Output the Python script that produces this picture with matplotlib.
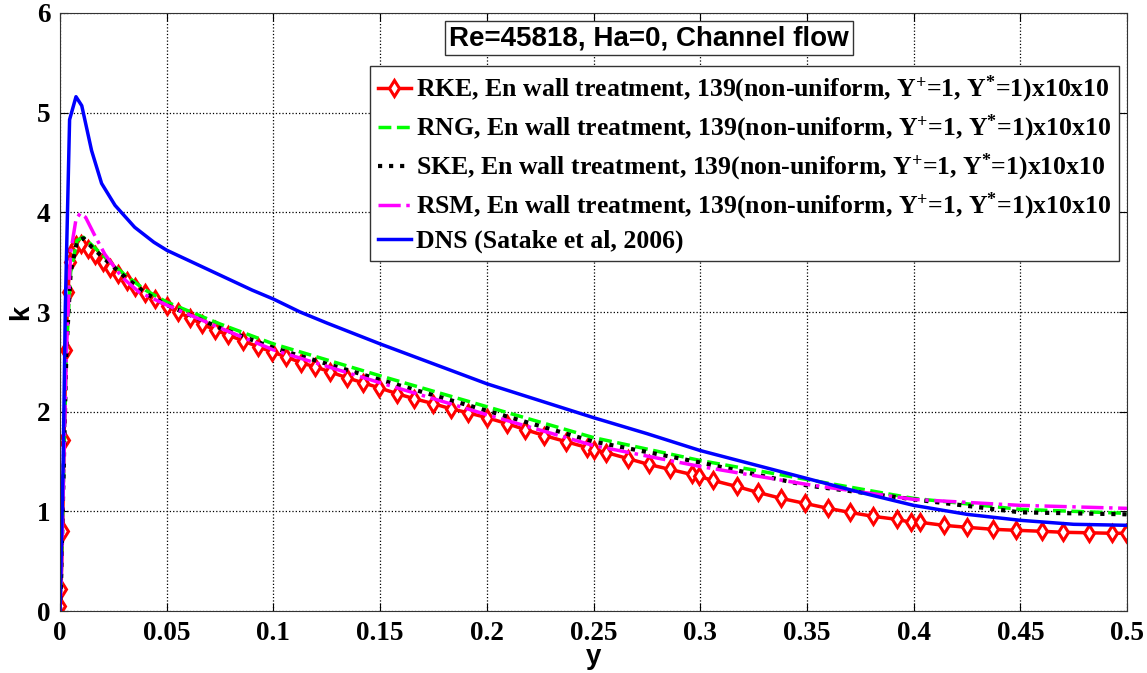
import matplotlib
matplotlib.use("Agg")
import matplotlib.pyplot as plt
import numpy as np

plt.rcParams['font.family'] = 'Liberation Serif'
plt.rcParams['font.weight'] = 'bold'
plt.rcParams['mathtext.fontset'] = 'custom'
plt.rcParams['mathtext.rm'] = 'Liberation Serif:bold'
plt.rcParams['mathtext.it'] = 'Liberation Serif:bold'
plt.rcParams['mathtext.bf'] = 'Liberation Serif:bold'

# RKE (markers on every cell centre)
y_rke = [0.0, 0.0005, 0.0012, 0.0019, 0.0028, 0.0037, 0.0047, 0.006, 0.0075,
         0.0098, 0.0131, 0.0164, 0.0202, 0.0234, 0.0272, 0.0314, 0.0351, 0.0398,
         0.0445, 0.05, 0.0553, 0.061, 0.0665, 0.0726, 0.0787, 0.0858, 0.093,
         0.0993, 0.106, 0.113, 0.1195, 0.1265, 0.1345, 0.142, 0.1495, 0.158,
         0.166, 0.175, 0.183, 0.191, 0.2, 0.2095, 0.218, 0.227, 0.237, 0.247,
         0.25, 0.256, 0.266, 0.276, 0.286, 0.296, 0.2995, 0.306, 0.317, 0.327,
         0.338, 0.349, 0.36, 0.37, 0.381, 0.392, 0.399, 0.403, 0.414, 0.425,
         0.437, 0.448, 0.46, 0.47, 0.482, 0.493, 0.4995]
k_rke = [0.05, 0.22, 0.8, 1.72, 2.62, 3.2, 3.5, 3.62, 3.67,
         3.68, 3.63, 3.57, 3.5, 3.44, 3.38, 3.31, 3.25, 3.19,
         3.13, 3.06, 3.0, 2.94, 2.88, 2.82, 2.77, 2.71, 2.65,
         2.6, 2.55, 2.49, 2.45, 2.4, 2.34, 2.29, 2.24, 2.18,
         2.13, 2.08, 2.03, 1.99, 1.94, 1.88, 1.82, 1.76, 1.7, 1.64,
         1.62, 1.59, 1.53, 1.47, 1.42, 1.37, 1.35, 1.31, 1.25, 1.19,
         1.13, 1.08, 1.03, 0.99, 0.95, 0.92, 0.89, 0.89, 0.86, 0.84,
         0.82, 0.81, 0.8, 0.79, 0.785, 0.78, 0.78]

# RNG
y_rng = [0.0, 0.0005, 0.0015, 0.003, 0.005, 0.008, 0.011, 0.015, 0.02, 0.03,
         0.04, 0.05, 0.075, 0.1, 0.15, 0.2, 0.25, 0.3, 0.35, 0.4, 0.45, 0.5]
k_rng = [0.0, 0.3, 1.2, 2.6, 3.4, 3.72, 3.75, 3.67, 3.57, 3.38,
         3.22, 3.1, 2.88, 2.68, 2.36, 2.05, 1.74, 1.51, 1.32, 1.13, 1.02, 0.98]

# SKE
y_ske = [0.0, 0.0005, 0.0015, 0.003, 0.005, 0.008, 0.011, 0.015, 0.02, 0.03,
         0.04, 0.05, 0.075, 0.1, 0.15, 0.2, 0.25, 0.3, 0.35, 0.4, 0.45, 0.5]
k_ske = [0.0, 0.3, 1.2, 2.6, 3.4, 3.71, 3.74, 3.65, 3.55, 3.36,
         3.19, 3.07, 2.84, 2.64, 2.32, 2.01, 1.7, 1.49, 1.26, 1.12, 0.99, 0.97]

# RSM
y_rsm = [0.0, 0.0005, 0.0015, 0.003, 0.005, 0.0075, 0.0095, 0.012, 0.016, 0.021,
         0.029, 0.037, 0.05, 0.075, 0.1, 0.15, 0.2, 0.25, 0.3, 0.35, 0.4, 0.45, 0.5]
k_rsm = [0.0, 0.3, 1.2, 2.6, 3.6, 3.93, 3.99, 3.95, 3.78, 3.58,
         3.35, 3.2, 3.07, 2.84, 2.62, 2.29, 1.97, 1.66, 1.45, 1.27, 1.12, 1.06, 1.03]

# DNS (Satake et al, 2006)
y_dns = [0.0, 0.0015, 0.0025, 0.0045, 0.0075, 0.0102, 0.0148, 0.0195, 0.0258,
         0.035, 0.044, 0.05, 0.06, 0.075, 0.09, 0.1, 0.1125, 0.125, 0.15, 0.175,
         0.2, 0.225, 0.25, 0.275, 0.3, 0.325, 0.35, 0.375, 0.4, 0.425, 0.45,
         0.475, 0.5]
k_dns = [0.0, 1.5, 3.05, 4.93, 5.16, 5.07, 4.62, 4.29, 4.07,
         3.85, 3.7, 3.62, 3.52, 3.37, 3.22, 3.13, 3.0, 2.89, 2.68, 2.48,
         2.28, 2.11, 1.94, 1.78, 1.61, 1.47, 1.33, 1.19, 1.06, 0.97, 0.91,
         0.87, 0.86]

labels = ['RKE', 'RNG', 'SKE', 'RSM']
suffix = ', En wall treatment, 139(non-uniform, Y$^{+}$=1, Y$^{*}$=1)x10x10'

fig = plt.figure(figsize=(11.47, 6.73), dpi=100)
ax = fig.add_axes([0.0523, 0.0921, 0.9303, 0.8886])

ax.plot(y_rke, k_rke, '-', color='r', lw=2.5, marker='d', ms=8, mfc='w',
        mec='r', mew=2.2, label=labels[0] + suffix)
ax.plot(y_rng, k_rng, '--', color=(0, 1, 0), lw=2.5, label=labels[1] + suffix)
ax.plot(y_ske, k_ske, ':', color='k', lw=3, label=labels[2] + suffix)
ax.plot(y_rsm, k_rsm, '-.', color=(1, 0, 1), lw=2.5, label=labels[3] + suffix)
ax.plot(y_dns, k_dns, '-', color='b', lw=2.5, label='DNS (Satake et al, 2006)')

ax.set_xlim(0, 0.5)
ax.set_ylim(0, 6)
ax.set_xticks(np.arange(0, 0.51, 0.05))
ax.set_xticklabels(['0', '0.05', '0.1', '0.15', '0.2', '0.25', '0.3', '0.35', '0.4', '0.45', '0.5'])
ax.set_yticks(range(7))
ax.tick_params(direction='in', top=True, right=True, labelsize=19.5, pad=7, length=6)
ax.grid(True, color='k', linestyle=':', linewidth=0.9)
for s in ax.spines.values():
    s.set_color('#333333')

ax.set_xlabel('y', fontsize=20, fontweight='bold', family='Liberation Sans', labelpad=-1)
ax.set_ylabel('k', fontsize=20, fontweight='bold', family='Liberation Sans', labelpad=2)

leg = ax.legend(loc='upper right', bbox_to_anchor=(0.9925, 0.9114), borderaxespad=0,
                fontsize=18.5, handlelength=1.3, handletextpad=0.2, labelspacing=0.3,
                fancybox=False, framealpha=1, borderpad=0.3)
leg.get_frame().set_edgecolor('#333333')
leg.get_frame().set_linewidth(1)

ax.text(0.552, 0.958, 'Re=45818, Ha=0, Channel flow', transform=ax.transAxes,
        ha='center', va='center', fontsize=20, fontweight='bold', family='Liberation Sans',
        bbox=dict(boxstyle='square,pad=0.15', fc='w', ec='#333333', lw=1))

fig.savefig('out.png', dpi=100)
